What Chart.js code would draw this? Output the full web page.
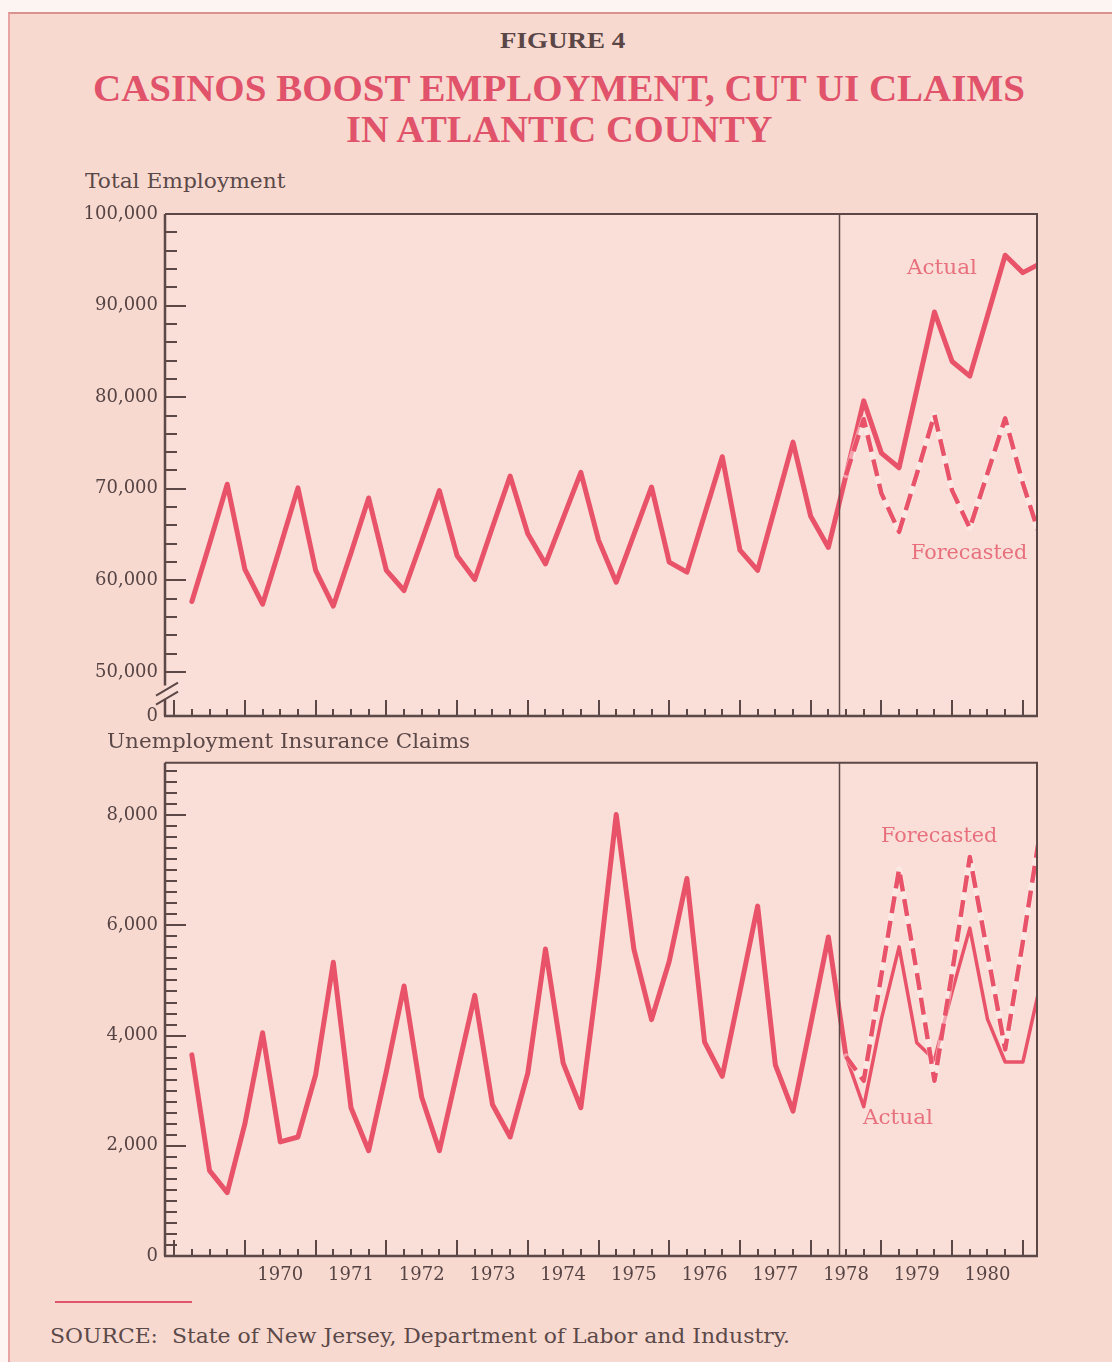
<!DOCTYPE html>
<html>
<head>
<meta charset="utf-8">
<title>Casinos boost employment, cut UI claims in Atlantic County</title>
<script src="https://cdn.jsdelivr.net/npm/chart.js@4.4.1/dist/chart.umd.min.js"></script>
<style>
  html, body { margin: 0; padding: 0; background: #fdf5f2; }
  body { width: 1112px; height: 1362px; position: relative; overflow: hidden; font-family: "DejaVu Serif", serif; }
  #sheet { position: absolute; left: 8px; top: 12px; width: 1104px; height: 1350px; background: #f8d9d0;
           border-left: 2px solid #eaa3a3; border-top: 2px solid #d9928f; box-sizing: border-box; }
  canvas { position: absolute; left: 0; }
  .t { position: absolute; white-space: nowrap; line-height: 1; transform-origin: 0 50%; }
  .fig { font: bold 24px "Liberation Serif", serif; color: #5a4646; }
  .title { font: bold 38px "Liberation Serif", serif; color: #e0536a; }
  .lab { font: 20px "DejaVu Serif", serif; color: #5b4949; }
  .note { font: 20px "DejaVu Serif", serif; color: #e8707d; }
  #rule { position: absolute; left: 55px; top: 1301px; width: 137px; height: 2px; background: #e0566b; }
</style>
</head>
<body>
<div id="sheet"></div>

<div class="t fig" data-w="125" data-cy="40" style="left:500px">FIGURE 4</div>
<div class="t title" data-w="932" data-cy="88" style="left:93px">CASINOS BOOST EMPLOYMENT, CUT UI CLAIMS</div>
<div class="t title" data-w="427" data-cy="129" style="left:346px">IN ATLANTIC COUNTY</div>

<div class="t lab" data-w="200" data-cy="181" style="left:85px">Total Employment</div>
<canvas id="emp" width="1112" height="550" style="top:195px"></canvas>

<div class="t lab" data-w="363" data-cy="741" style="left:107px">Unemployment Insurance Claims</div>
<canvas id="ui" width="1112" height="560" style="top:745px"></canvas>

<div class="t note" data-w="70" data-cy="267" style="left:907px">Actual</div>
<div class="t note" data-w="116" data-cy="552" style="left:911px">Forecasted</div>
<div class="t note" data-w="116" data-cy="835" style="left:881px">Forecasted</div>
<div class="t note" data-w="70" data-cy="1117" style="left:863px">Actual</div>

<div id="rule"></div>
<div class="t lab" data-w="740" data-cy="1336" style="left:50px">SOURCE:&nbsp; State of New Jersey, Department of Labor and Industry.</div>

<script>
// ---- Data: quarterly, 1969 Q1 through 1981 Q1 ----
const firstYear = 1969;
const quarterCount = 49;
const quarters = [];
for (let i = 0; i < quarterCount; i++) {
  quarters.push((firstYear + Math.floor(i / 4)) + ' Q' + (i % 4 + 1));
}

// Total employment, actual
const employmentActual = [
  57700, 64000, 70500, 61200,
  57400, 63700, 70100, 61100,
  57200, 63000, 69000, 61100,
  58900, 64300, 69800, 62700,
  60100, 65800, 71400, 65100,
  61800, 66800, 71800, 64400,
  59800, 65000, 70200, 62000,
  60900, 67200, 73500, 63300,
  61100, 68100, 75100, 67000,
  63600, 71500, 79600, 73900,
  72300, 80800, 89300, 83900,
  82300, 88900, 95500, 93600,
  94600
];

// Forecasts begin at 1978 Q2
const forecastStart = '1978 Q2';
const employmentForecast = [
  71500, 77600, 69500,
  65300, 71600, 78100, 69800,
  65700, 71700, 77700, 70600,
  64600
];

// Unemployment insurance claims, actual
const claimsActual = [
  3650, 1550, 1150, 2400,
  4050, 2070, 2160, 3290,
  5330, 2690, 1910, 3350,
  4900, 2880, 1910, 3320,
  4730, 2750, 2160, 3320,
  5570, 3500, 2690, 5200,
  8010, 5570, 4290, 5350,
  6850, 3880, 3260, 4800,
  6350, 3470, 2630, 4200,
  5790, 3620, 2710, 4300,
  5610, 3870, 3560, 4800,
  5950, 4300, 3520, 3520,
  4950
];

const claimsForecast = [
  3620, 3180, 5100,
  7020, 5150, 3180, 5150,
  7240, 5500, 3750, 5700,
  7750
];

// Axis ticks and labels
const yearLabels = ['1970', '1971', '1972', '1973', '1974', '1975', '1976', '1977', '1978', '1979', '1980'];
const employmentTicks = [50000, 60000, 70000, 80000, 90000, 100000];
const employmentTickLabels = ['50,000', '60,000', '70,000', '80,000', '90,000', '100,000'];
const employmentBreakLabel = '0';
const claimsTicks = [0, 2000, 4000, 6000, 8000];
const claimsTickLabels = ['0', '2,000', '4,000', '6,000', '8,000'];
const casinoOpening = 1978.4;   // vertical divider between history and forecast

// ---- Styling ----
const LINE = '#e9536a';
const INK = '#564444';
const AXIS = '#5c4846';
const PLOT_BG = '#f9dfd8';
const TICK_FONT = { family: 'DejaVu Serif', size: 18 };

// quarter label -> position on the time axis (end of quarter)
function quarterPos(label) {
  const [y, q] = label.split(' Q');
  return +y + (+q) / 4;
}
function series(values, fromLabel) {
  const start = fromLabel ? quarters.indexOf(fromLabel) : 0;
  return values.map((v, i) => ({ x: quarterPos(quarters[start + i]), y: v }));
}

const axisFrame = {
  id: 'axisFrame',
  beforeDatasetsDraw(chart) {
    const { ctx, chartArea: a } = chart;
    ctx.save();
    ctx.fillStyle = PLOT_BG;
    ctx.fillRect(a.left, a.top, a.right - a.left, a.bottom - a.top);
    ctx.restore();
  },
  afterDatasetsDraw(chart, args, opts) {
    const { ctx, chartArea: a, scales: { x, y } } = chart;
    ctx.save();
    ctx.strokeStyle = AXIS;
    ctx.lineCap = 'butt';

    // top and right border
    ctx.lineWidth = 2;
    ctx.beginPath();
    ctx.moveTo(a.left, a.top); ctx.lineTo(a.right, a.top); ctx.lineTo(a.right, a.bottom);
    ctx.stroke();

    // divider at the casino opening
    ctx.lineWidth = 1.5;
    const dx = Math.round(x.getPixelForValue(casinoOpening)) + 0.5;
    ctx.beginPath(); ctx.moveTo(dx, a.top); ctx.lineTo(dx, a.bottom); ctx.stroke();

    // bottom axis
    ctx.lineWidth = 2.5;
    ctx.beginPath(); ctx.moveTo(a.left - 1, a.bottom); ctx.lineTo(a.right + 1, a.bottom); ctx.stroke();

    // left axis (with a break mark when the scale does not start at zero)
    ctx.beginPath();
    if (opts.broken) {
      const b = y.getPixelForValue(opts.brokenAt);
      ctx.moveTo(a.left, a.top); ctx.lineTo(a.left, b - 2);
      ctx.moveTo(a.left, b + 12); ctx.lineTo(a.left, a.bottom);
      ctx.stroke();
      ctx.lineWidth = 2;
      ctx.beginPath();
      ctx.moveTo(a.left - 9, b + 8); ctx.lineTo(a.left + 13, b - 5);
      ctx.moveTo(a.left - 9, b + 17); ctx.lineTo(a.left + 13, b + 4);
      ctx.stroke();
    } else {
      ctx.moveTo(a.left, a.top); ctx.lineTo(a.left, a.bottom);
      ctx.stroke();
    }

    // quarter ticks on the time axis, pointing inward
    ctx.lineWidth = 2;
    ctx.beginPath();
    for (let yr = firstYear; yr <= 1981; yr++) {
      for (let q = 0; q < 4; q++) {
        const px = Math.round(x.getPixelForValue(yr + q / 4));
        if (px < a.left + 4 || px > a.right - 2) continue;
        const len = q === 0 ? 16 : 7;
        ctx.moveTo(px, a.bottom); ctx.lineTo(px, a.bottom - len);
      }
    }
    ctx.stroke();

    // value ticks on the left axis, pointing inward
    ctx.beginPath();
    for (let v = opts.tickFrom; v <= opts.tickTo + 1e-6; v += opts.minorStep) {
      const py = Math.round(y.getPixelForValue(v));
      if (py > a.bottom - 3 || py < a.top + 1) continue;
      const major = Math.abs(v % opts.majorStep) < 1e-6;
      ctx.moveTo(a.left, py); ctx.lineTo(a.left + (major ? 21 : 12), py);
    }
    ctx.stroke();
    ctx.restore();
  }
};

function lineSet(data, extra) {
  return Object.assign({
    data, borderColor: LINE, borderWidth: 5, pointRadius: 0, tension: 0,
    borderJoinStyle: 'round', borderCapStyle: 'round', clip: 0, fill: false
  }, extra);
}
function forecastSets(data) {
  return [
    lineSet(data, { borderColor: 'rgba(255,242,238,0.5)', borderWidth: 6, order: 1 }),
    lineSet(data, { borderDash: [17, 8], borderWidth: 4.5, borderCapStyle: 'butt', order: 0 })
  ];
}

const X_MIN = 1968.87, X_MAX = 1981.2;

function timeAxis(showLabels, height) {
  return {
    type: 'linear', min: X_MIN, max: X_MAX,
    grid: { display: false, drawTicks: false }, border: { display: false },
    afterBuildTicks: s => { s.ticks = yearLabels.map(l => ({ value: +l + 0.5 })); },
    afterFit: s => { s.height = height; },
    ticks: {
      display: showLabels, autoSkip: false, maxRotation: 0, padding: 9,
      color: INK, font: TICK_FONT,
      callback: (v, i) => yearLabels[i]
    }
  };
}

function baseOptions(padTop, padRight) {
  return {
    responsive: false, animation: false, events: [],
    layout: { padding: { left: 0, right: padRight, top: padTop, bottom: 0 } },
    plugins: { legend: { display: false }, tooltip: { enabled: false } }
  };
}

// ---- Total employment ----
const EMP_MIN = 45200;
new Chart(document.getElementById('emp'), {
  type: 'line',
  data: {
    datasets: [
      lineSet(series(employmentActual), { order: 2 }),
      ...forecastSets(series(employmentForecast, forecastStart))
    ]
  },
  options: Object.assign(baseOptions(19, 75), {
    scales: {
      x: timeAxis(false, 29),
      y: {
        type: 'linear', min: EMP_MIN, max: 100000,
        grid: { display: false, drawTicks: false }, border: { display: false },
        afterBuildTicks: s => {
          s.ticks = [{ value: EMP_MIN }].concat(employmentTicks.map(v => ({ value: v })));
        },
        afterFit: s => { s.width = 165; },
        ticks: {
          padding: 7, color: INK, font: TICK_FONT, autoSkip: false,
          callback: (v, i) => i === 0 ? employmentBreakLabel : employmentTickLabels[i - 1]
        }
      }
    },
    plugins: {
      legend: { display: false }, tooltip: { enabled: false },
      axisFrame: { broken: true, brokenAt: 48300, tickFrom: 50000, tickTo: 100000, minorStep: 2000, majorStep: 10000 }
    }
  }),
  plugins: [axisFrame]
});

// ---- Unemployment insurance claims ----
new Chart(document.getElementById('ui'), {
  type: 'line',
  data: {
    datasets: [
      lineSet(series(claimsActual), {
        order: 2,
        segment: { borderWidth: c => (c.p0.parsed.x >= 1978.49 ? 3.5 : 5) }
      }),
      ...forecastSets(series(claimsForecast, forecastStart))
    ]
  },
  options: Object.assign(baseOptions(17, 75), {
    scales: {
      x: timeAxis(true, 49),
      y: {
        type: 'linear', min: 0, max: 8950,
        grid: { display: false, drawTicks: false }, border: { display: false },
        afterBuildTicks: s => { s.ticks = claimsTicks.map(v => ({ value: v })); },
        afterFit: s => { s.width = 165; },
        ticks: {
          padding: 7, color: INK, font: TICK_FONT, autoSkip: false,
          callback: (v, i) => claimsTickLabels[i]
        }
      }
    },
    plugins: {
      legend: { display: false }, tooltip: { enabled: false },
      axisFrame: { broken: false, tickFrom: 200, tickTo: 8800, minorStep: 200, majorStep: 2000 }
    }
  }),
  plugins: [axisFrame]
});

// Fit each text line to its set width and vertical centre
function fitText() {
  document.querySelectorAll('.t').forEach(el => {
    const w = +el.dataset.w, cy = +el.dataset.cy;
    el.style.top = (cy - el.offsetHeight / 2) + 'px';
    el.style.transform = 'scaleX(' + (w / el.offsetWidth) + ')';
  });
}
fitText();
if (document.fonts && document.fonts.ready) document.fonts.ready.then(fitText);
</script>
</body>
</html>
